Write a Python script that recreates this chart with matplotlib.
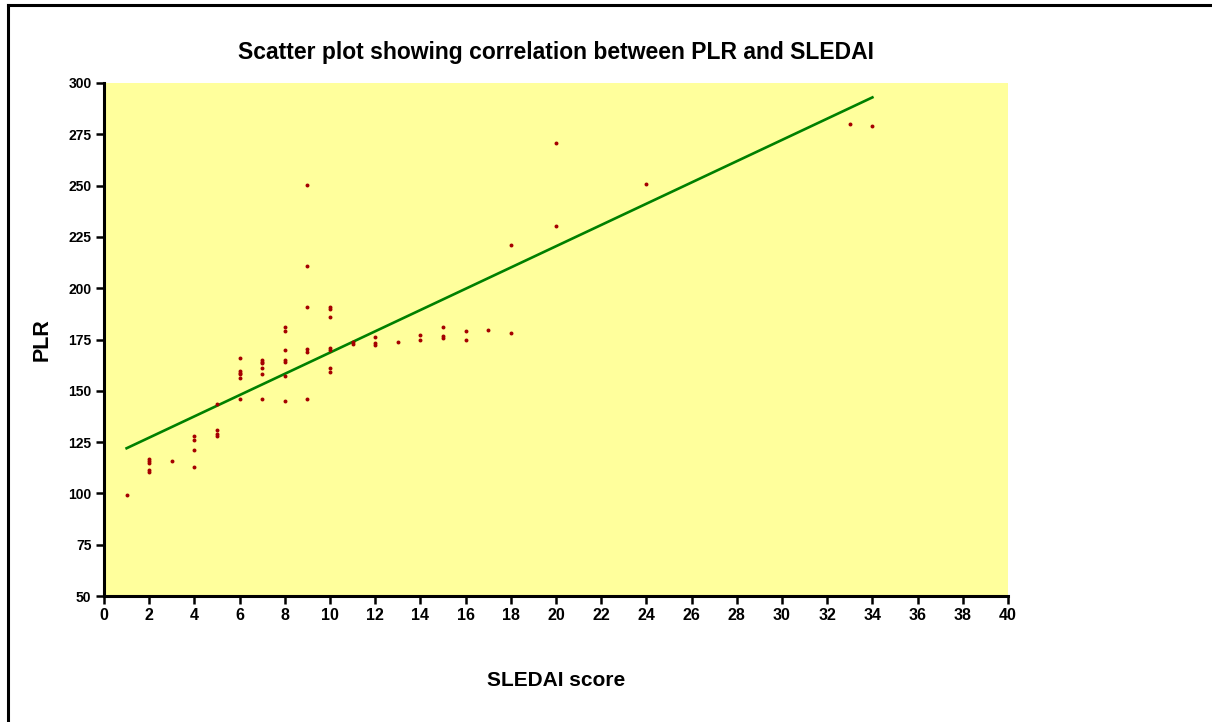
import matplotlib
matplotlib.use("Agg")
import matplotlib.pyplot as plt
from matplotlib.lines import Line2D
import numpy as np

plt.rcParams['font.family'] = ['Liberation Sans', 'DejaVu Sans']

sledai = [1,
          2, 2, 2, 2, 2,
          3,
          4, 4, 4, 4,
          5, 5, 5, 5,
          6, 6, 6, 6, 6, 6,
          7, 7, 7, 7, 7, 7,
          8, 8, 8, 8, 8, 8, 8,
          9, 9, 9, 9, 9, 9,
          10, 10, 10, 10, 10, 10, 10,
          11, 11,
          12, 12, 12,
          13,
          14, 14,
          15, 15, 15,
          16, 16,
          17,
          18, 18,
          20, 20,
          24,
          33, 34]
plr = [99,
       117, 116, 115, 111.5, 110.5,
       116,
       128, 126, 121, 113,
       143.5, 131, 129, 128,
       166, 159.5, 158.5, 158, 156, 146,
       165, 164, 163.5, 161, 158, 146,
       181, 179, 170, 165, 164, 157, 145,
       250.5, 211, 191, 170.5, 169, 146,
       191, 190, 186, 171, 170, 161, 159,
       174, 173,
       176, 173.5, 172.5,
       174,
       177, 175,
       181, 176.5, 175.5,
       179, 175,
       179.5,
       221, 178,
       271, 230.5,
       251,
       280, 279]

x_ticks = list(range(0, 41, 2))
y_ticks = list(range(50, 301, 25))

fig = plt.figure(figsize=(12.12, 7.22), dpi=100)
ax = fig.add_axes([104/1212, 1-596/722, (1008-104)/1212, (596-83)/722])
ax.set_facecolor('#FFFF9C')

xs = np.array(sledai, dtype=float)
ys = np.array(plr, dtype=float)
slope, intercept = np.polyfit(xs, ys, 1)
xl = np.array([xs.min(), xs.max()])
ax.plot(xl, slope*xl + intercept, color='#008000', lw=1.9, zorder=2)
ax.scatter(xs, ys, s=8, color='#A50000', zorder=3, linewidths=0)

ax.set_xlim(0, 40)
ax.set_ylim(50, 300)
ax.set_xticks(x_ticks)
ax.set_yticks(y_ticks)
for s in ['top', 'right']:
    ax.spines[s].set_visible(False)
for s in ['left', 'bottom']:
    ax.spines[s].set_linewidth(2.2)
ax.tick_params(direction='out', length=6, width=1.8)
ax.tick_params(axis='x', labelsize=11.5, pad=3)
ax.tick_params(axis='y', labelsize=10, pad=3)
for lab in ax.get_xticklabels() + ax.get_yticklabels():
    lab.set_fontweight('bold')

fig.text(556/1212, 1-52/722, 'Scatter plot showing correlation between PLR and SLEDAI',
         ha='center', va='center', fontsize=16.5, fontweight='bold')
fig.text(556/1212, 1-680/722, 'SLEDAI score', ha='center', va='center',
         fontsize=15, fontweight='bold')
fig.text(42/1212, 1-340/722, 'PLR', ha='center', va='center', rotation=90,
         fontsize=15.5, fontweight='bold')

fig.add_artist(Line2D([8/1212, 8/1212], [0, 1-5/722], transform=fig.transFigure,
                      color='black', lw=2.2))
fig.add_artist(Line2D([8/1212, 1], [1-5/722, 1-5/722], transform=fig.transFigure,
                      color='black', lw=2.2))

fig.savefig('out.png', dpi=100)
